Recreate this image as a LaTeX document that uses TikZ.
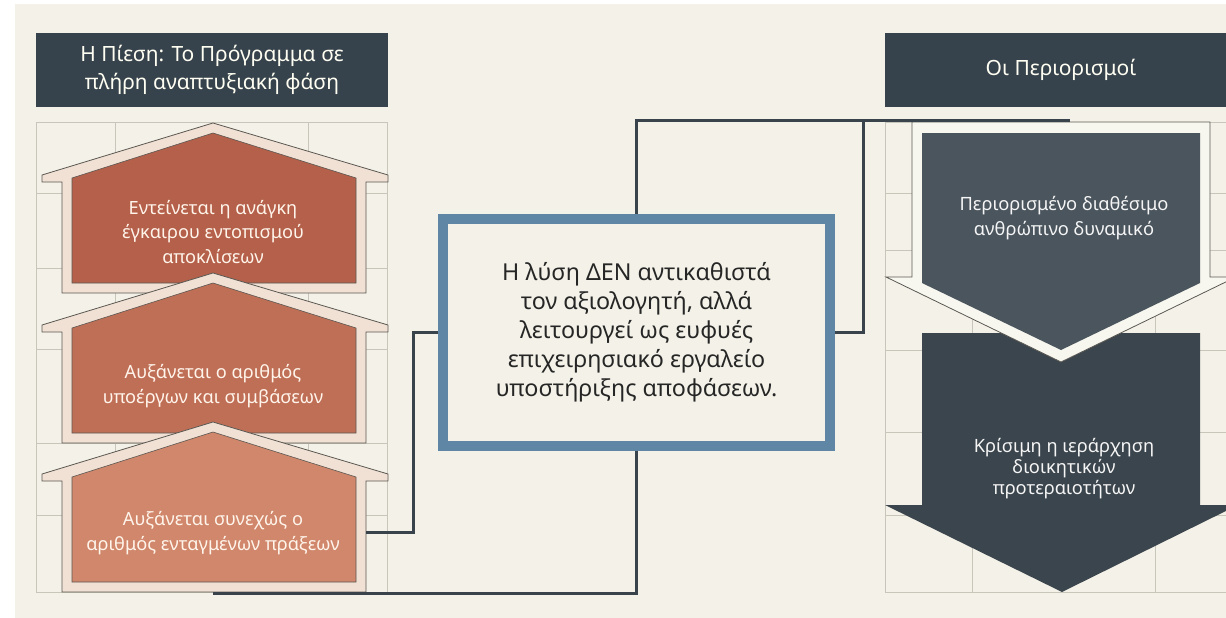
\documentclass[tikz,border=0pt]{standalone}
\usepackage{fontspec}
\setmainfont{Noto Sans}
\usetikzlibrary{positioning}

\definecolor{bgcream}{HTML}{F4F2E8}
\definecolor{slate}{HTML}{37434C}
\definecolor{gridgray}{HTML}{C8C6BB}
\definecolor{wirecol}{HTML}{38434C}
\definecolor{boxblue}{HTML}{5F86A5}
\definecolor{roofpink}{HTML}{F1E0D4}
\definecolor{houseA}{HTML}{B4604A}
\definecolor{houseB}{HTML}{C06F57}
\definecolor{houseC}{HTML}{D0876C}
\definecolor{arrowA}{HTML}{4A555E}
\definecolor{arrowB}{HTML}{3B454D}
\definecolor{edgegray}{HTML}{5A5852}

\tikzset{
  header/.style={fill=slate, text=white!95!yellow, inner sep=0pt, align=center,
    minimum width=352pt, minimum height=73pt, font=\fontsize{21}{28}\selectfont},
  wire/.style={draw=wirecol, line width=3pt},
  gridline/.style={draw=gridgray, line width=0.8pt},
  housetxt/.style={text=white!92!orange, align=center, font=\fontsize{18.2}{24.5}\selectfont},
  arrowtxt/.style={text=white!92!gray, align=center, font=\fontsize{18.3}{24.5}\selectfont},
}

\begin{document}
\begin{tikzpicture}[x=1pt, y=-1pt]
  \useasboundingbox (0,0) rectangle (1226,618);
  \fill[white] (0,0) rectangle (1226,618);
  \fill[bgcream] (15,4) rectangle (1226,618);

  % grid panels
  \draw[gridline] (36,122) rectangle (387,592);
  \draw[gridline] (115,122) -- (115,592) (308,122) -- (308,592);
  \draw[gridline] (36,193) -- (387,193) (36,268) -- (387,268) (36,349) -- (387,349)
                  (36,443) -- (387,443) (36,515) -- (387,515);

  \draw[gridline] (885,122) -- (1230,122) (885,122) -- (885,592) -- (1230,592);
  \draw[gridline] (972,122) -- (972,592) (1155,122) -- (1155,592);
  \draw[gridline] (885,193) -- (1230,193) (885,250) -- (1230,250) (885,350) -- (1230,350)
                  (885,432) -- (1230,432) (885,515) -- (1230,515);

  % headers
  \node[header] (press) at (212,70) {Η Πίεση: Το Πρόγραμμα σε\\πλήρη αναπτυξιακή φάση};
  \node[header] (limits) at (1061,70) {Οι Περιορισμοί};

  % houses
  \filldraw[fill=roofpink, draw=edgegray, line width=0.8pt]
    (213,123) -- (388,175) -- (388,182) -- (366,182) -- (366,293) -- (62,293)
    -- (62,182) -- (42,182) -- (42,175) -- cycle;
  \filldraw[fill=houseA, draw=edgegray, line width=0.6pt]
    (213,133) -- (356,178) -- (356,283) -- (72,283) -- (72,178) -- cycle;
  \node[housetxt] (press1) at (213,232) {Εντείνεται η ανάγκη\\έγκαιρου εντοπισμού\\αποκλίσεων};

  \begin{scope}[shift={(0,150)}]
    \filldraw[fill=roofpink, draw=edgegray, line width=0.8pt]
      (213,123) -- (388,175) -- (388,182) -- (366,182) -- (366,293) -- (62,293)
      -- (62,182) -- (42,182) -- (42,175) -- cycle;
    \filldraw[fill=houseB, draw=edgegray, line width=0.6pt]
      (213,133) -- (356,178) -- (356,283) -- (72,283) -- (72,178) -- cycle;
  \end{scope}
  \node[housetxt] (press2) at (213,386) {Αυξάνεται ο αριθμός\\υποέργων και συμβάσεων};

  \begin{scope}[shift={(0,299)}]
    \filldraw[fill=roofpink, draw=edgegray, line width=0.8pt]
      (213,123) -- (388,175) -- (388,182) -- (366,182) -- (366,293) -- (62,293)
      -- (62,182) -- (42,182) -- (42,175) -- cycle;
    \filldraw[fill=houseC, draw=edgegray, line width=0.6pt]
      (213,133) -- (356,178) -- (356,283) -- (72,283) -- (72,178) -- cycle;
  \end{scope}
  \node[housetxt] (press3) at (213,533) {Αυξάνεται συνεχώς ο\\αριθμός ενταγμένων πράξεων};

  % down arrows (lower one first, upper outline lies over it)
  \fill[arrowB] (922,333) -- (1200,333) -- (1200,505) -- (1238,505) -- (1062,592)
    -- (885,505) -- (922,505) -- cycle;
  \node[arrowtxt, font=\fontsize{18.3}{21}\selectfont] (lim2) at (1064,469)
    {Κρίσιμη η ιεράρχηση\\διοικητικών\\προτεραιοτήτων};

  \filldraw[fill=bgcream!70!white, draw=edgegray, line width=0.8pt]
    (912,122) -- (1210,122) -- (1210,277) -- (1236,277) -- (1061,362) -- (886,277)
    -- (912,277) -- cycle;
  \fill[arrowA] (922,133) -- (1200,133) -- (1200,283) -- (1061,350) -- (922,283) -- cycle;
  \node[arrowtxt] (lim1) at (1064,218) {Περιορισμένο διαθέσιμο\\ανθρώπινο δυναμικό};

  % central statement
  \node[draw=boxblue, line width=10pt, fill=bgcream, inner sep=0pt,
        minimum width=387pt, minimum height=227pt, align=center,
        text=black!85, font=\fontsize{23.3}{29}\selectfont] (sol) at (636.5,332.5)
    {Η λύση ΔΕΝ αντικαθιστά\\τον αξιολογητή, αλλά\\λειτουργεί ως ευφυές\\επιχειρησιακό εργαλείο\\υποστήριξης αποφάσεων.};

  % connectors
  \coordinate (h3r) at (366,532);
  \coordinate (topend) at (1070,120);
  \coordinate (jn) at (863,120);
  \coordinate (botend) at (213,593);
  \draw[wire] (h3r) -- ++(47,0) |- (sol.west);
  \draw[wire] (sol.north) |- (topend);
  \draw[wire] (sol.east) -| (jn);
  \draw[wire] (sol.south) |- (botend);
\end{tikzpicture}
\end{document}
